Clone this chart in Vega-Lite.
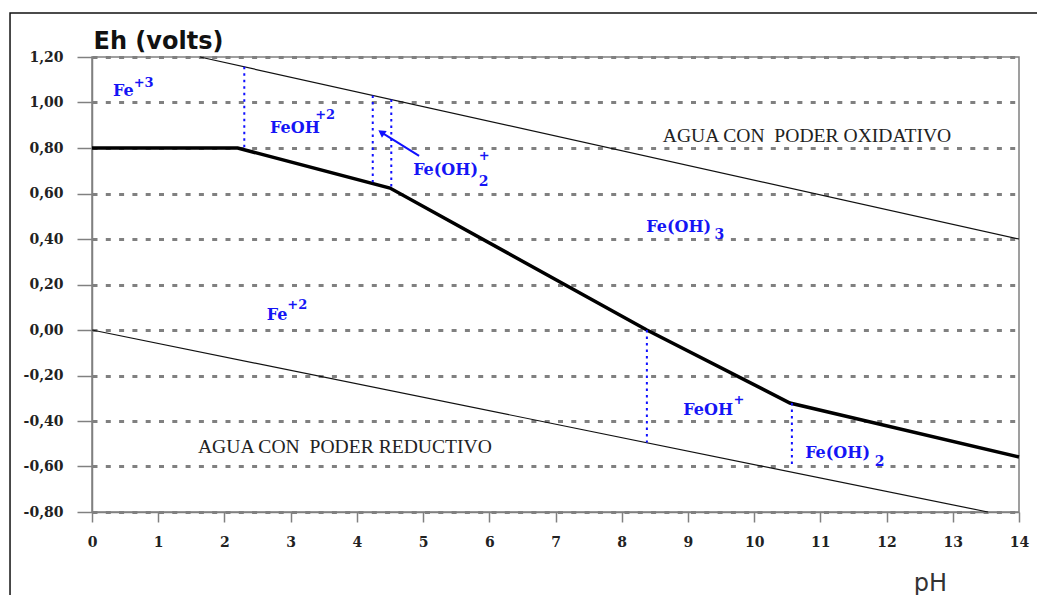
{
  "$schema": "https://vega.github.io/schema/vega-lite/v6.json",
  "width": 927,
  "height": 455,
  "autosize": {"type": "none"},
  "padding": {"left": 92, "top": 57, "right": 18, "bottom": 83},
  "background": "white",
  "config": {
    "view": {"stroke": "#808080", "strokeWidth": 1.5},
    "axisY": {
      "domainColor": "#808080", "domainWidth": 1.5,
      "tickColor": "#808080", "tickSize": 15, "tickWidth": 1.5,
      "labelFont": "DejaVu Serif", "labelFontWeight": "bold", "labelFontSize": 14, "labelColor": "#222222",
      "labelPadding": 14,
      "grid": true, "gridColor": "#808080", "gridDash": [5, 8.3], "gridWidth": 3,
      "titleAngle": 0, "titleX": 1, "titleY": -9, "titleAlign": "left", "titleBaseline": "alphabetic",
      "titleFont": "DejaVu Sans", "titleFontSize": 24, "titleFontWeight": "bold", "titleColor": "#111111"
    },
    "axisX": {
      "grid": false,
      "domainColor": "#808080", "domainWidth": 1.5,
      "tickColor": "#808080", "tickSize": 10, "tickWidth": 1.5,
      "labelFont": "DejaVu Serif", "labelFontWeight": "bold", "labelFontSize": 14, "labelColor": "#222222",
      "labelPadding": 13, "labelFlush": false, "labelOverlap": false,
      "titleX": 838, "titleY": 78, "titleAlign": "center", "titleBaseline": "alphabetic",
      "titleFont": "DejaVu Sans", "titleFontSize": 24, "titleFontWeight": "normal", "titleColor": "#333333"
    }
  },
  "datasets": {
    "frame": [
      {"pH": -1.238, "Eh": -1.3},
      {"pH": -1.238, "Eh": 1.393},
      {"pH": 14.4, "Eh": 1.393}
    ],
    "water": [
      {"line": "upper", "pH": 1.63, "Eh": 1.2},
      {"line": "upper", "pH": 14, "Eh": 0.4},
      {"line": "lower", "pH": 0, "Eh": 0},
      {"line": "lower", "pH": 13.53, "Eh": -0.8}
    ],
    "boundary": [
      {"pH": 0, "Eh": 0.8},
      {"pH": 2.2, "Eh": 0.8},
      {"pH": 4.5, "Eh": 0.624},
      {"pH": 8.38, "Eh": 0.0},
      {"pH": 10.54, "Eh": -0.321},
      {"pH": 14, "Eh": -0.558}
    ],
    "dividers": [
      {"pH": 2.3, "Eh": 1.157, "Eh2": 0.8},
      {"pH": 4.24, "Eh": 1.031, "Eh2": 0.65},
      {"pH": 4.52, "Eh": 1.013, "Eh2": 0.624},
      {"pH": 8.38, "Eh": 0.0, "Eh2": -0.495},
      {"pH": 10.57, "Eh": -0.321, "Eh2": -0.6}
    ],
    "arrow": [
      {"pH": 4.94, "Eh": 0.765},
      {"pH": 4.37, "Eh": 0.869}
    ],
    "arrowhead": [
      {"pH": 4.37, "Eh": 0.869}
    ],
    "species": [
      {"label": "Fe", "pH": 0.317, "Eh": 1.051},
      {"label": "FeOH", "pH": 2.69, "Eh": 0.888},
      {"label": "Fe(OH)", "pH": 4.85, "Eh": 0.703},
      {"label": "Fe(OH)", "pH": 8.37, "Eh": 0.453},
      {"label": "Fe", "pH": 2.64, "Eh": 0.066},
      {"label": "FeOH", "pH": 8.93, "Eh": -0.352},
      {"label": "Fe(OH)", "pH": 10.77, "Eh": -0.541}
    ],
    "supers": [
      {"label": "+3", "pH": 0.63, "Eh": 1.086},
      {"label": "+2", "pH": 3.37, "Eh": 0.945},
      {"label": "+", "pH": 5.84, "Eh": 0.765},
      {"label": "+2", "pH": 2.95, "Eh": 0.11},
      {"label": "+", "pH": 9.69, "Eh": -0.308}
    ],
    "subs": [
      {"label": "2", "pH": 5.84, "Eh": 0.652},
      {"label": "3", "pH": 9.4, "Eh": 0.416},
      {"label": "2", "pH": 11.82, "Eh": -0.582}
    ],
    "regions": [
      {"label": "AGUA CON \u00a0PODER OXIDATIVO", "pH": 8.62, "Eh": 0.853},
      {"label": "AGUA CON \u00a0PODER REDUCTIVO", "pH": 1.6, "Eh": -0.514}
    ]
  },
  "layer": [
    {
      "data": {"name": "water"},
      "mark": {"type": "line", "color": "#111111", "strokeWidth": 1.2},
      "encoding": {
        "x": {"field": "pH", "type": "quantitative", "title": "pH", "scale": {"domain": [0, 14], "nice": false, "zero": false},
              "axis": {"values": [0, 1, 2, 3, 4, 5, 6, 7, 8, 9, 10, 11, 12, 13, 14], "format": "d"}},
        "y": {"field": "Eh", "type": "quantitative", "title": "Eh (volts)", "scale": {"domain": [-0.8, 1.2], "nice": false, "zero": false},
              "axis": {"values": [-0.8, -0.6, -0.4, -0.2, 0, 0.2, 0.4, 0.6, 0.8, 1.0, 1.2],
                       "labelExpr": "replace(replace(format(datum.value, '.2f'), '.', ','), '\u2212', '-')"}},
        "detail": {"field": "line"}
      }
    },
    {
      "mark": {"type": "rule", "color": "#808080", "strokeWidth": 1.5},
      "encoding": {
        "y": {"datum": 0, "type": "quantitative", "title": "Eh (volts)", "scale": {"domain": [-0.8, 1.2], "nice": false, "zero": false}}
      }
    },
    {
      "data": {"name": "boundary"},
      "mark": {"type": "line", "color": "#000000", "strokeWidth": 3.5},
      "encoding": {
        "x": {"field": "pH", "type": "quantitative", "title": "pH", "scale": {"domain": [0, 14], "nice": false, "zero": false}},
        "y": {"field": "Eh", "type": "quantitative", "title": "Eh (volts)", "scale": {"domain": [-0.8, 1.2], "nice": false, "zero": false}}
      }
    },
    {
      "data": {"name": "dividers"},
      "mark": {"type": "rule", "color": "#1010ff", "strokeWidth": 2, "strokeDash": [2.5, 4]},
      "encoding": {
        "x": {"field": "pH", "type": "quantitative", "title": "pH", "scale": {"domain": [0, 14], "nice": false, "zero": false}},
        "y": {"field": "Eh", "type": "quantitative", "title": "Eh (volts)", "scale": {"domain": [-0.8, 1.2], "nice": false, "zero": false}},
        "y2": {"field": "Eh2"}
      }
    },
    {
      "data": {"name": "arrow"},
      "mark": {"type": "line", "color": "#1010ff", "strokeWidth": 2},
      "encoding": {
        "x": {"field": "pH", "type": "quantitative", "title": "pH", "scale": {"domain": [0, 14], "nice": false, "zero": false}},
        "y": {"field": "Eh", "type": "quantitative", "title": "Eh (volts)", "scale": {"domain": [-0.8, 1.2], "nice": false, "zero": false}}
      }
    },
    {
      "data": {"name": "arrowhead"},
      "mark": {"type": "point", "shape": "triangle-up", "filled": true, "color": "#1010ff", "size": 70, "angle": 305, "opacity": 1},
      "encoding": {
        "x": {"field": "pH", "type": "quantitative", "title": "pH", "scale": {"domain": [0, 14], "nice": false, "zero": false}},
        "y": {"field": "Eh", "type": "quantitative", "title": "Eh (volts)", "scale": {"domain": [-0.8, 1.2], "nice": false, "zero": false}}
      }
    },
    {
      "data": {"name": "species"},
      "mark": {"type": "text", "align": "left", "baseline": "middle", "font": "DejaVu Serif", "fontWeight": "bold", "fontSize": 16, "color": "#1515f5"},
      "encoding": {
        "x": {"field": "pH", "type": "quantitative", "title": "pH", "scale": {"domain": [0, 14], "nice": false, "zero": false}},
        "y": {"field": "Eh", "type": "quantitative", "title": "Eh (volts)", "scale": {"domain": [-0.8, 1.2], "nice": false, "zero": false}},
        "text": {"field": "label"}
      }
    },
    {
      "data": {"name": "supers"},
      "mark": {"type": "text", "align": "left", "baseline": "middle", "font": "DejaVu Serif", "fontWeight": "bold", "fontSize": 13, "color": "#1515f5"},
      "encoding": {
        "x": {"field": "pH", "type": "quantitative", "title": "pH", "scale": {"domain": [0, 14], "nice": false, "zero": false}},
        "y": {"field": "Eh", "type": "quantitative", "title": "Eh (volts)", "scale": {"domain": [-0.8, 1.2], "nice": false, "zero": false}},
        "text": {"field": "label"}
      }
    },
    {
      "data": {"name": "subs"},
      "mark": {"type": "text", "align": "left", "baseline": "middle", "font": "DejaVu Serif", "fontWeight": "bold", "fontSize": 14, "color": "#1515f5"},
      "encoding": {
        "x": {"field": "pH", "type": "quantitative", "title": "pH", "scale": {"domain": [0, 14], "nice": false, "zero": false}},
        "y": {"field": "Eh", "type": "quantitative", "title": "Eh (volts)", "scale": {"domain": [-0.8, 1.2], "nice": false, "zero": false}},
        "text": {"field": "label"}
      }
    },
    {
      "data": {"name": "regions"},
      "mark": {"type": "text", "align": "left", "baseline": "middle", "font": "Liberation Serif", "fontSize": 19.6, "color": "#222222"},
      "encoding": {
        "x": {"field": "pH", "type": "quantitative", "title": "pH", "scale": {"domain": [0, 14], "nice": false, "zero": false}},
        "y": {"field": "Eh", "type": "quantitative", "title": "Eh (volts)", "scale": {"domain": [-0.8, 1.2], "nice": false, "zero": false}},
        "text": {"field": "label"}
      }
    },
    {
      "data": {"name": "frame"},
      "mark": {"type": "line", "color": "#111111", "strokeWidth": 1.5, "clip": false},
      "encoding": {
        "x": {"field": "pH", "type": "quantitative", "title": "pH", "scale": {"domain": [0, 14], "nice": false, "zero": false}},
        "y": {"field": "Eh", "type": "quantitative", "title": "Eh (volts)", "scale": {"domain": [-0.8, 1.2], "nice": false, "zero": false}},
        "order": {"field": "pH"}
      }
    }
  ]
}
